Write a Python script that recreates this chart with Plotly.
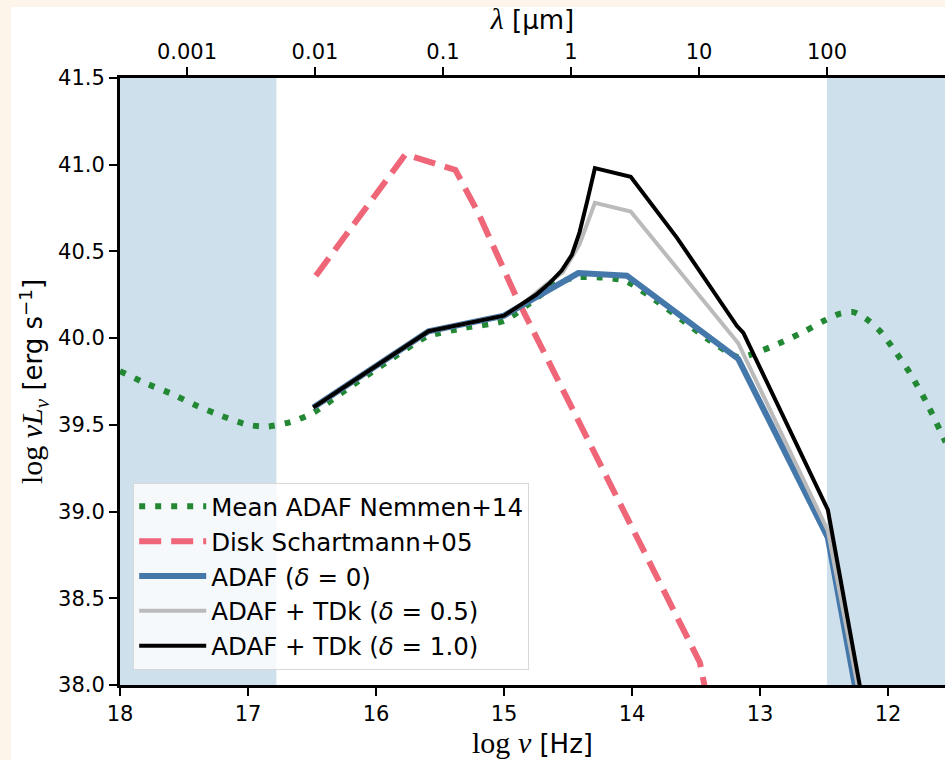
import numpy as np
import plotly.graph_objects as go

# ---------------- data ----------------
green_x = [18.0, 17.8, 17.6, 17.4, 17.2, 17.0, 16.85, 16.65, 16.49, 16.2, 15.92, 15.6, 15.3, 15.0,
           14.8, 14.6, 14.45, 14.25, 14.05, 13.8, 13.6, 13.4, 13.17, 13.05, 12.85, 12.65, 12.5,
           12.38, 12.27, 12.15, 12.05, 11.95, 11.83, 11.7, 11.55]
green_y = [39.81, 39.74, 39.68, 39.61, 39.55, 39.50, 39.49, 39.52, 39.57, 39.72, 39.86, 40.01, 40.06, 40.10,
           40.20, 40.31, 40.35, 40.35, 40.33, 40.21, 40.10, 39.99, 39.89, 39.91, 39.97, 40.04, 40.10,
           40.14, 40.15, 40.10, 40.03, 39.93, 39.80, 39.63, 39.40]

disk_x = [16.47, 15.77, 15.38, 15.2, 14.9, 14.43, 13.96, 13.47, 13.3]
disk_y = [40.36, 41.06, 40.97, 40.72, 40.23, 39.54, 38.86, 38.13, 37.5]

adaf_x = [16.49, 15.92, 15.59, 15.0, 14.42, 14.04, 13.17, 12.47, 12.0]
adaf_y = [39.60, 39.88, 40.04, 40.13, 40.375, 40.36, 39.88, 38.85, 36.95]

tdk05_x = [16.49, 15.92, 15.59, 15.0, 14.85, 14.67, 14.54, 14.41, 14.33, 14.29, 14.01, 13.6, 13.17, 12.47, 12.0]
tdk05_y = [39.60, 39.88, 40.04, 40.13, 40.20, 40.31, 40.38, 40.54, 40.70, 40.78, 40.73, 40.36, 39.97, 38.89, 37.08]

tdk10_x = [16.49, 15.92, 15.59, 15.0, 14.85, 14.75, 14.64, 14.55, 14.47, 14.41, 14.35, 14.29, 14.01, 13.65, 13.18, 13.13, 12.47, 12.0]
tdk10_y = [39.60, 39.88, 40.04, 40.13, 40.20, 40.25, 40.32, 40.39, 40.48, 40.61, 40.79, 40.98, 40.93, 40.58, 40.07, 40.03, 39.01, 37.1]

nu_ticks = [18, 17, 16, 15, 14, 13, 12]
lam_ticks = [0.001, 0.01, 0.1, 1, 10, 100]
lam_labels = ["0.001", "0.01", "0.1", "1", "10", "100"]
band_lam = [[1e-4, 0.005], [100, 1e4]]   # shaded wavelength bands (μm)
y_ticks = [38.0, 38.5, 39.0, 39.5, 40.0, 40.5, 41.0, 41.5]

LOG_C = np.log10(2.99792458e14)  # speed of light in μm/s
X_RANGE = [18.0, 11.555]
Y_RANGE = [38.0, 41.5]

def lam_to_lognu(lam):
    return LOG_C - np.log10(lam)

SANS = "DejaVu Sans"
SERIF = "Liberation Serif"
TICK = 21
SERIF_SPAN = f'<span style="font-family:{SERIF};font-size:30px">'

fig = go.Figure()

# white figure area over the cream border (drawn first, below everything)
fig.add_shape(type="rect", xref="paper", yref="paper",
              x0=(11 - 120) / 825, x1=1.2, y0=-0.3, y1=1 + (78 - 7) / 607,
              fillcolor="white", line_width=0, layer="below")
for lo, hi in band_lam:
    fig.add_vrect(x0=lam_to_lognu(hi), x1=lam_to_lognu(lo), fillcolor="rgb(207,224,237)",
                  opacity=1, line_width=0, layer="below")

fig.add_trace(go.Scatter(x=green_x, y=green_y, mode="lines", name="Mean ADAF Nemmen+14",
                         line=dict(color="#228833", width=6, dash="6px,10px", shape="spline", smoothing=0.6)))
fig.add_trace(go.Scatter(x=disk_x, y=disk_y, mode="lines", name="Disk Schartmann+05",
                         line=dict(color="#ee6677", width=6, dash="22px,10px")))
fig.add_trace(go.Scatter(x=adaf_x, y=adaf_y, mode="lines", name="ADAF (<i>δ</i> = 0)",
                         line=dict(color="#4477aa", width=6)))
fig.add_trace(go.Scatter(x=tdk05_x, y=tdk05_y, mode="lines", name="ADAF + TDk (<i>δ</i> = 0.5)",
                         line=dict(color="#bbbbbb", width=4)))
fig.add_trace(go.Scatter(x=tdk10_x, y=tdk10_y, mode="lines", name="ADAF + TDk (<i>δ</i> = 1.0)",
                         line=dict(color="#000000", width=4)))

top_vals = [lam_to_lognu(l) for l in lam_ticks]
fig.add_trace(go.Scatter(x=top_vals, y=[Y_RANGE[0]] * len(top_vals), xaxis="x2", mode="markers",
                         marker=dict(opacity=0), showlegend=False, hoverinfo="skip"))

axis_common = dict(showgrid=False, zeroline=False, showline=True, linecolor="black", linewidth=3,
                   ticks="outside", ticklen=8, tickwidth=2, tickcolor="black",
                   tickfont=dict(family=SANS, size=TICK))

fig.update_layout(
    width=945, height=760,
    margin=dict(l=120, r=0, t=78, b=75),
    paper_bgcolor="#fdf4ea", plot_bgcolor="rgba(0,0,0,0)",
    font=dict(family=SANS, size=TICK, color="black"),
    showlegend=True,
    legend=dict(x=0.016, y=0.333, xanchor="left", yanchor="top",
                bgcolor="rgba(255,255,255,0.8)", bordercolor="#d8d8d8", borderwidth=1,
                font=dict(family=SANS, size=24.5), tracegroupgap=0, itemwidth=67),
    xaxis=dict(range=X_RANGE, tickvals=nu_ticks, **axis_common,
               title=dict(text=f'{SERIF_SPAN}log <i>ν</i></span> [Hz]',
                          font=dict(family=SANS, size=26), standoff=3)),
    xaxis2=dict(range=X_RANGE, overlaying="x", side="top", tickvals=top_vals, ticktext=lam_labels,
                **axis_common,
                title=dict(text=f'{SERIF_SPAN}<i>λ</i></span> [μm]',
                           font=dict(family=SANS, size=26), standoff=3)),
    yaxis=dict(range=Y_RANGE, tickvals=y_ticks, tickformat=".1f", **axis_common,
               title=dict(text=f'{SERIF_SPAN}log <i>νL</i><sub><i>ν</i></sub></span> [erg s<sup>−1</sup>]',
                          font=dict(family=SANS, size=26), standoff=8)),
)

fig.write_html("out.html", post_script="document.body.style.margin='0px';",
               config={"displayModeBar": False})
